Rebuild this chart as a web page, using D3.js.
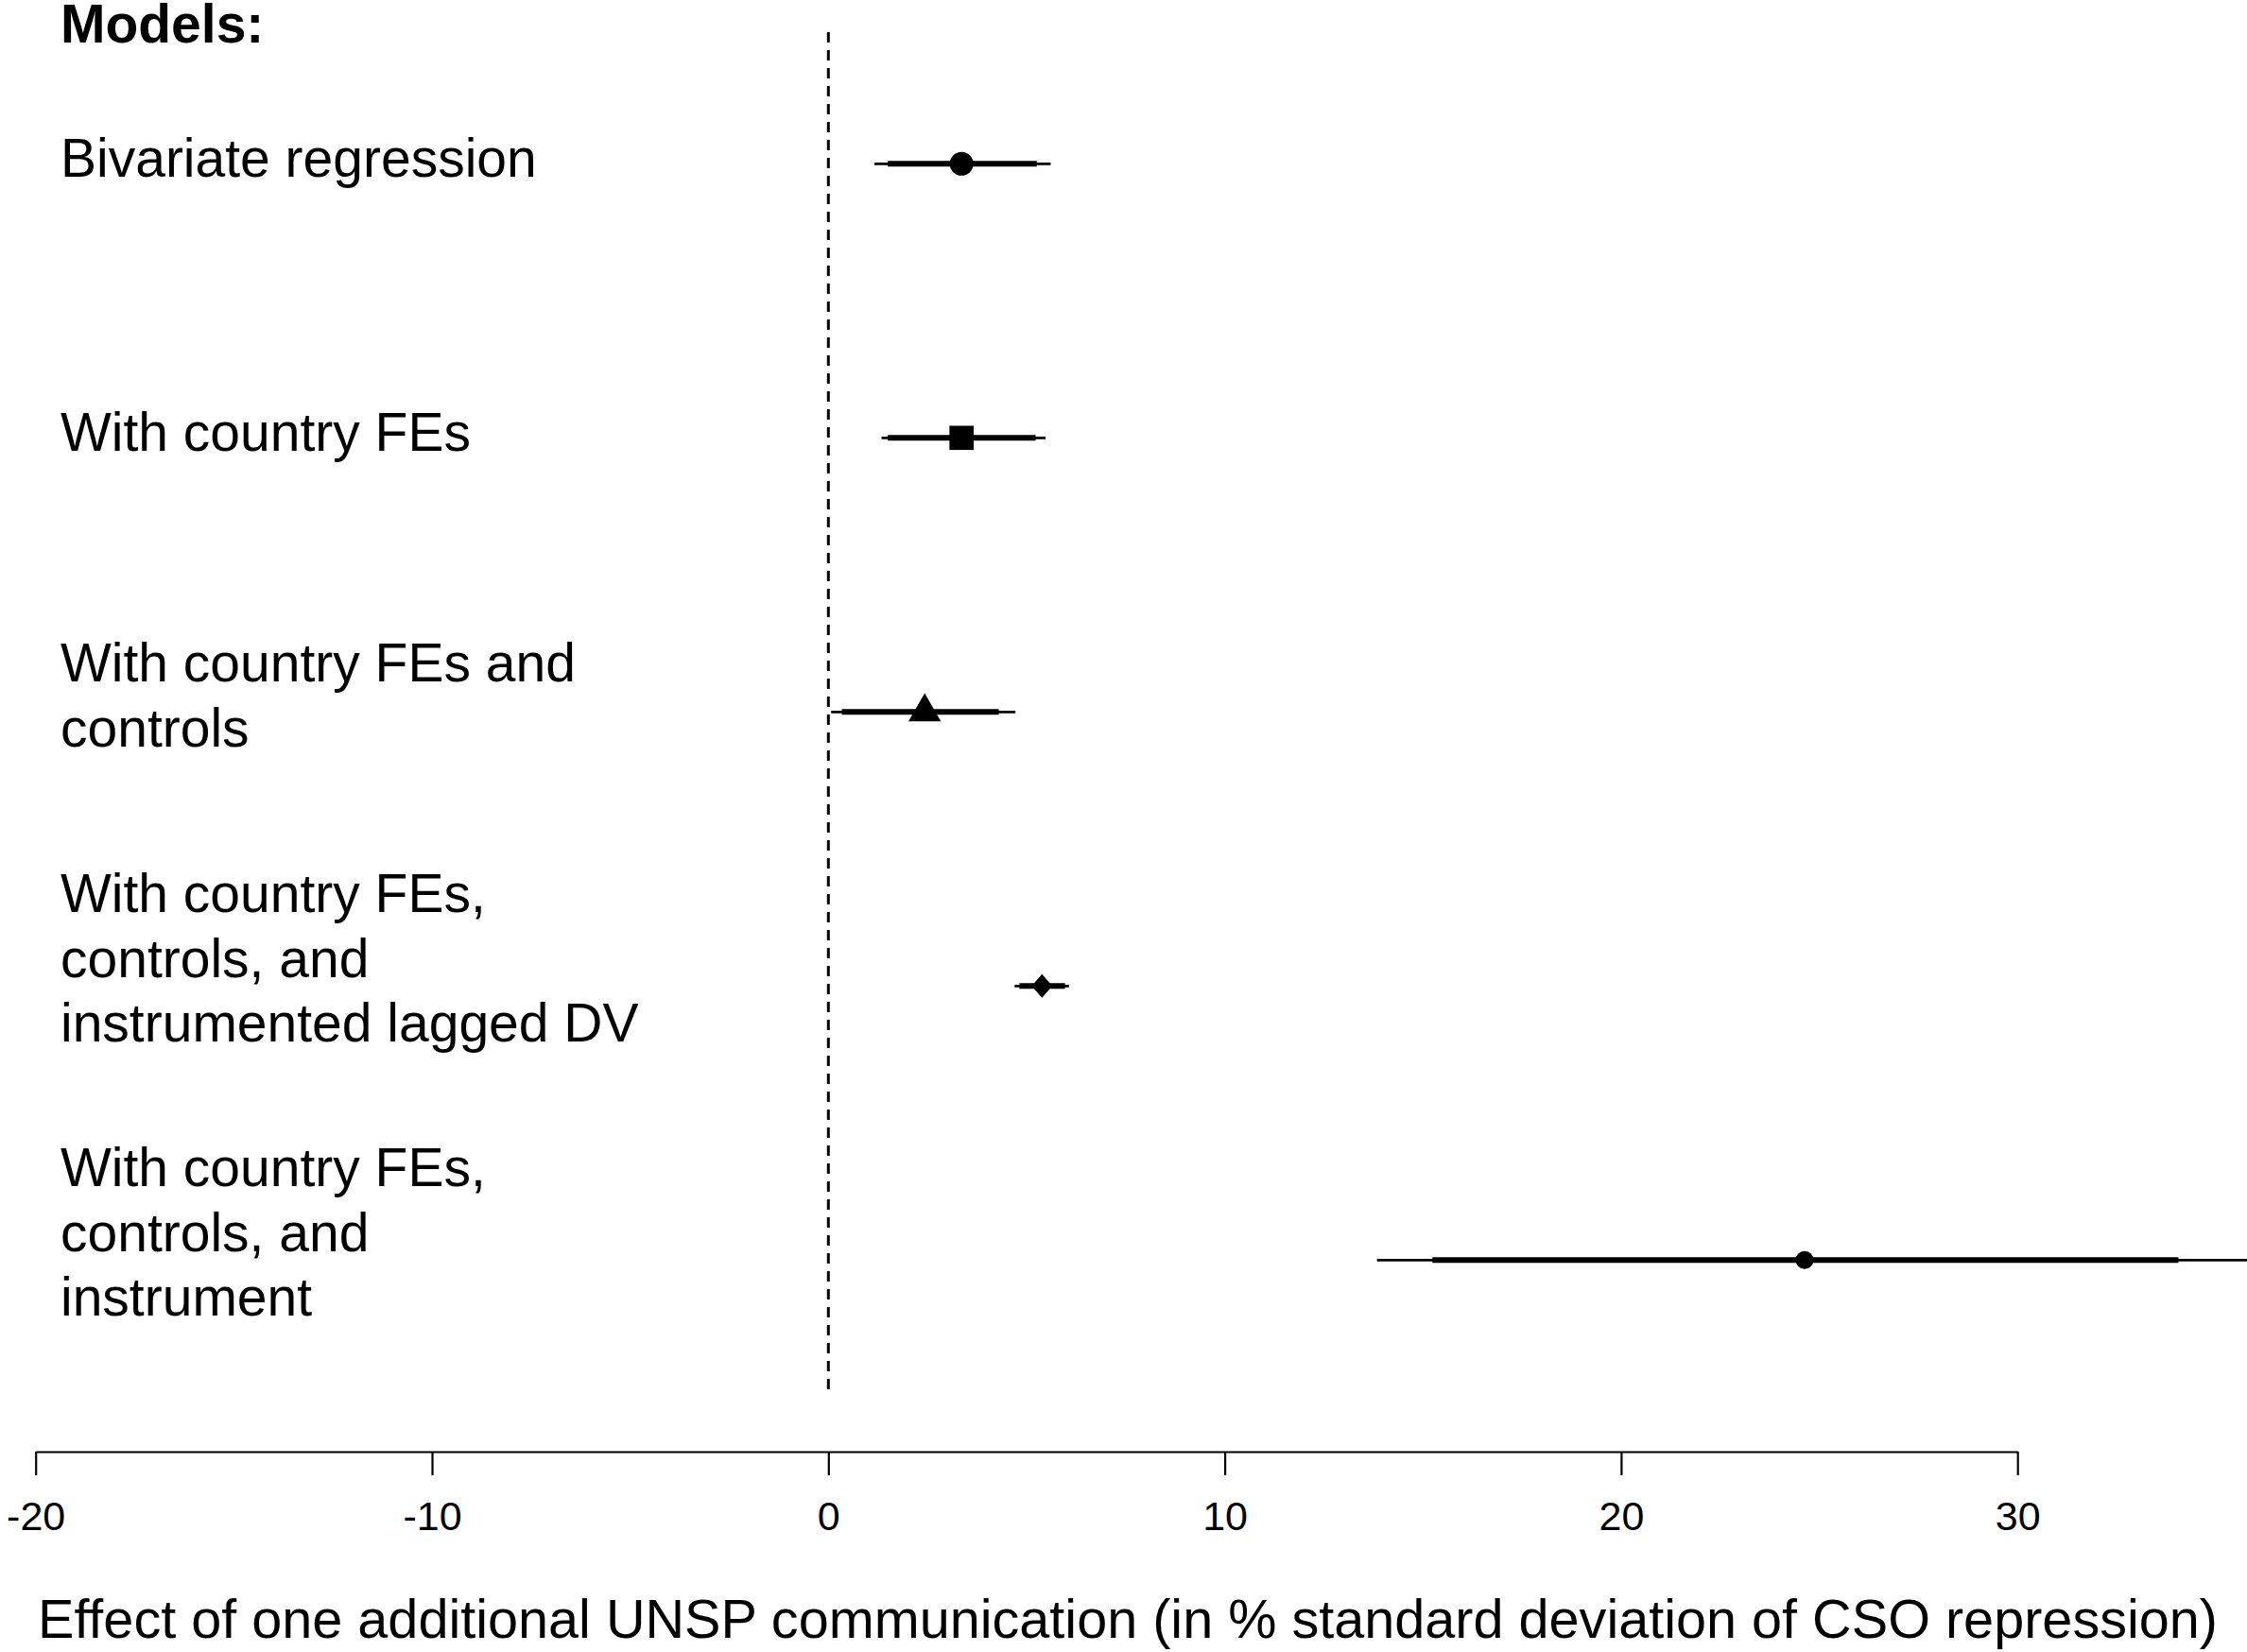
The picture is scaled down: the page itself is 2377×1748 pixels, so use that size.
<!DOCTYPE html>
<html>
<head>
<meta charset="utf-8">
<script src="https://d3js.org/d3.v7.min.js"></script>
<style>
  body { margin: 0; background: #fff; }
  svg { display: block; }
  text { font-family: "Liberation Sans", Arial, Helvetica, sans-serif; fill: #000; }
</style>
</head>
<body>
<script>
// model labels (one entry per line)
var models = [
	["Bivariate regression"],
	["With country FEs"],
	["With country FEs and", "controls"],
	["With country FEs,", "controls, and", "instrumented lagged DV"],
	["With country FEs,", "controls, and", "instrument"]
];
var estimates = [3.36, 3.36, 2.43, 5.39, 24.63];
var lo95 = [1.16, 1.34, 0.07, 4.70, 13.84];
var hi95 = [5.61, 5.48, 4.72, 6.07, 36.0];
var lo90 = [1.50, 1.50, 0.34, 4.82, 15.24];
var hi90 = [5.26, 5.23, 4.30, 5.97, 34.06];
var shapes = ["circle", "square", "triangle", "diamond", "smallcircle"];
var xTicks = [-20, -10, 0, 10, 20, 30];
var xTitle = "Effect of one additional UNSP communication (in % standard deviation of CSO repression)";

var width = 2377;
var height = 1748;

var svg = d3
	.select("body")
	.append("svg")
	.attr("width", width)
	.attr("height", height);

var x = d3.scaleLinear().domain([-20, 30]).range([37.7, 2134.2]);
var y = d3.scaleLinear().domain([0, 4]).range([173.3, 1333.3]);

// R-style filled diamond (a bit taller than wide)
var rDiamond = {
	draw: function (context, size) {
		var w = Math.sqrt(size) * 0.47;
		var h = w * 1.15;
		context.moveTo(0, -h);
		context.lineTo(w, 0);
		context.lineTo(0, h);
		context.lineTo(-w, 0);
		context.closePath();
	}
};

var symbolFor = {
	circle: d3.symbol().type(d3.symbolCircle).size(Math.PI * 12.5 * 12.5),
	square: d3.symbol().type(d3.symbolSquare).size(25.6 * 25.6),
	triangle: d3.symbol().type(d3.symbolTriangle).size(509),
	diamond: d3.symbol().type(rDiamond).size(540),
	smallcircle: d3.symbol().type(d3.symbolCircle).size(Math.PI * 9.5 * 9.5)
};

// zero reference line
svg.append("line")
	.attr("x1", x(0))
	.attr("x2", x(0))
	.attr("y1", 34)
	.attr("y2", 1478)
	.style("stroke", "black")
	.style("stroke-width", 3)
	.style("stroke-dasharray", "11,8");

// header
svg.append("text")
	.attr("x", 64)
	.attr("y", 45)
	.style("font-size", "57px")
	.style("font-weight", "bold")
	.text("Models:");

// model labels
var labels = svg.selectAll("text.model")
	.data(models)
	.enter()
	.append("text")
	.attr("class", "model")
	.style("font-size", "57px");

labels.each(function (lines, i) {
	var first = y(i) + 14 - (lines.length - 1) * 46;
	d3.select(this)
		.selectAll("tspan")
		.data(lines)
		.enter()
		.append("tspan")
		.attr("x", 64)
		.attr("y", function (d, j) { return first + j * 68.3; })
		.text(function (d) { return d; });
});

var rows = d3.range(models.length);

// 95% intervals (thin)
svg.selectAll("line.ci95")
	.data(rows)
	.enter()
	.append("line")
	.attr("class", "ci95")
	.attr("x1", function (i) { return x(lo95[i]); })
	.attr("x2", function (i) { return x(hi95[i]); })
	.attr("y1", function (i) { return y(i); })
	.attr("y2", function (i) { return y(i); })
	.style("stroke", "black")
	.style("stroke-width", 2.8);

// 90% intervals (thick)
svg.selectAll("line.ci90")
	.data(rows)
	.enter()
	.append("line")
	.attr("class", "ci90")
	.attr("x1", function (i) { return x(lo90[i]); })
	.attr("x2", function (i) { return x(hi90[i]); })
	.attr("y1", function (i) { return y(i); })
	.attr("y2", function (i) { return y(i); })
	.style("stroke", "black")
	.style("stroke-width", 6);

// point estimates
svg.selectAll("path.est")
	.data(rows)
	.enter()
	.append("path")
	.attr("class", "est")
	.attr("transform", function (i) { return "translate(" + x(estimates[i]) + "," + y(i) + ")"; })
	.attr("d", function (i) { return symbolFor[shapes[i]](); })
	.style("fill", "black");

// x axis
var axis = svg.append("g")
	.attr("transform", "translate(0,1536)")
	.call(d3.axisBottom(x).tickValues(xTicks).tickSize(25).tickSizeOuter(0).tickFormat(d3.format("d")));

axis.select(".domain").style("stroke", "black").style("stroke-width", 2.2);
axis.selectAll(".tick line").style("stroke", "black").style("stroke-width", 2.2);
axis.selectAll(".tick text")
	.attr("y", 83)
	.attr("dy", 0)
	.style("font-size", "43px")
	.style("font-family", "'Liberation Sans', Arial, Helvetica, sans-serif")
	.text(function (d) { return d < 0 ? "-" + Math.abs(d) : d; });

// axis title
svg.append("text")
	.attr("x", 1193)
	.attr("y", 1733)
	.attr("text-anchor", "middle")
	.style("font-size", "57.6px")
	.text(xTitle);
</script>
</body>
</html>
